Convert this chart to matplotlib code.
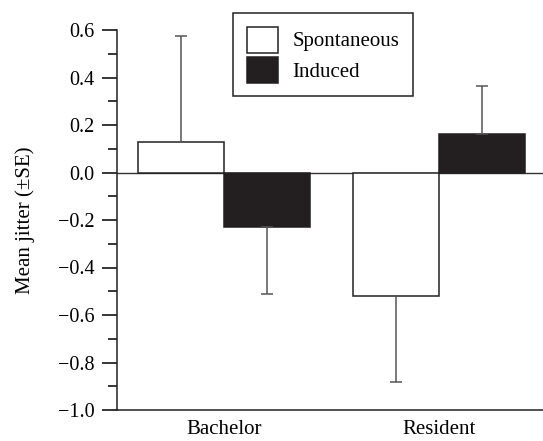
import matplotlib
matplotlib.use("Agg")
import matplotlib.pyplot as plt
import numpy as np

groups = ["Bachelor", "Resident"]
series = ["Spontaneous", "Induced"]
spont = [0.129, -0.52]
spont_err = [0.444, 0.362]
induced = [-0.228, 0.161]
induced_err = [0.285, 0.205]

plt.rcParams['font.family'] = ['Liberation Serif', 'DejaVu Serif']

fig = plt.figure(figsize=(5.43, 4.41), dpi=100)
ax = fig.add_axes([117/543, 31/441, 426/543, 380/441])

x = np.arange(len(groups))
w = 0.4
ecol = "#555555"
# error bars only on the side away from zero
sp_yerr = [[0 if v >= 0 else e for v, e in zip(spont, spont_err)],
           [e if v >= 0 else 0 for v, e in zip(spont, spont_err)]]
in_yerr = [[0 if v >= 0 else e for v, e in zip(induced, induced_err)],
           [e if v >= 0 else 0 for v, e in zip(induced, induced_err)]]

ax.axhline(0, color="#333333", lw=1.0, zorder=1)
ax.bar(x - w/2, spont, w, color="white", edgecolor="#222222", lw=1.1,
       label=series[0], zorder=2)
ax.bar(x + w/2, induced, w, color="#231f20", edgecolor="#231f20", lw=1.1,
       label=series[1], zorder=2)
ax.errorbar(x - w/2, spont, yerr=sp_yerr, fmt="none", ecolor=ecol,
            elinewidth=1.1, capsize=4.5, capthick=1.1, zorder=3)
ax.errorbar(x + w/2, induced, yerr=in_yerr, fmt="none", ecolor=ecol,
            elinewidth=1.1, capsize=4.5, capthick=1.1, zorder=3)

ax.set_xlim(-0.499, 1.483)
ax.set_ylim(-1.0, 0.6)
ax.set_xticks(x)
ax.set_xticklabels(groups, fontsize=15)
ax.tick_params(axis="x", length=0, pad=7)
ax.set_yticks(np.arange(-1.0, 0.61, 0.2))
ax.set_yticklabels(["\u22121.0", "\u22120.8", "\u22120.6", "\u22120.4", "\u22120.2",
                    "0.0", "0.2", "0.4", "0.6"], fontsize=14.5)
ax.set_yticks(np.arange(-0.9, 0.6, 0.2), minor=True)
ax.tick_params(axis="y", which="major", length=11, width=1.1, pad=5)
ax.tick_params(axis="y", which="minor", length=6.5, width=1.1)
for s in ["top", "right"]:
    ax.spines[s].set_visible(False)
for s in ["left", "bottom"]:
    ax.spines[s].set_linewidth(1.1)
    ax.spines[s].set_color("#222222")
ax.set_ylabel("Mean jitter (\u00b1SE)", fontsize=15, labelpad=17)

leg = ax.legend(loc="upper left", bbox_to_anchor=(116/426, 1 + 17/380),
                fontsize=15, handlelength=1.5, handleheight=1.55,
                labelspacing=0.2, handletextpad=0.7, borderpad=0.65,
                borderaxespad=0, fancybox=False, edgecolor="#222222",
                framealpha=1)
leg.get_frame().set_linewidth(1.1)

fig.savefig("out.png", dpi=100)
